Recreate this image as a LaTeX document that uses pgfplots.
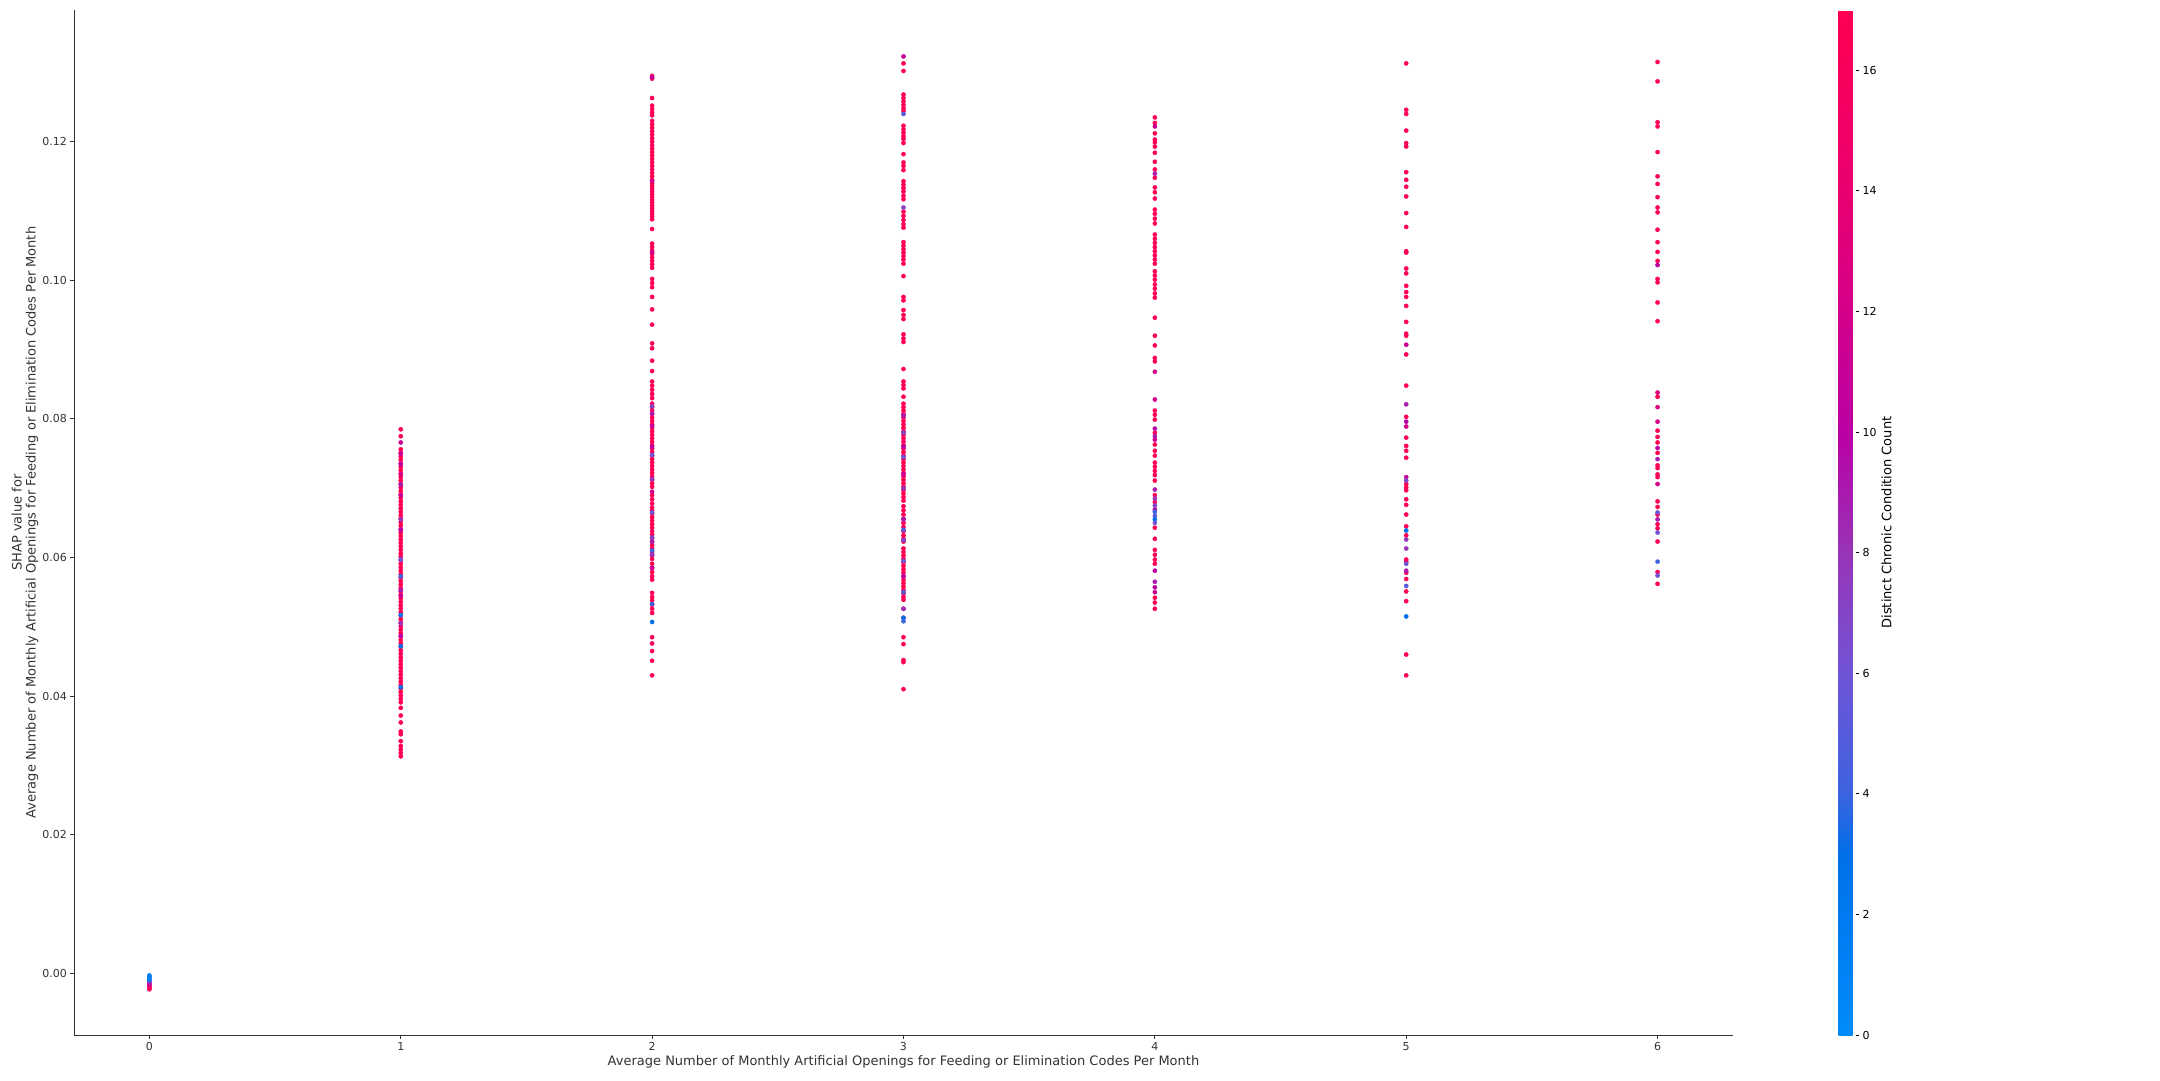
\documentclass[border=0pt]{standalone}
\usepackage{fontspec}
\setmainfont{DejaVu Sans}
\usepackage{pgfplots}
\pgfplotsset{compat=1.18}
\definecolor{axisgray}{HTML}{333333}
\pgfplotsset{/pgf/number format/assume math mode=true}

\pgfplotstableread{
x y c
1 0.0785 17
1 0.0775 17
1 0.0756 17
1 0.0751 17
1 0.0746 17
1 0.0741 17
1 0.0736 16
1 0.0731 17
1 0.0726 17
1 0.0721 17
1 0.0716 17
1 0.0711 17
1 0.0706 16
1 0.0701 17
1 0.0696 17
1 0.0691 17
1 0.0686 17
1 0.0681 17
1 0.0676 17
1 0.0671 16
1 0.0666 17
1 0.0661 17
1 0.0656 17
1 0.0651 17
1 0.0646 17
1 0.0641 17
1 0.0636 16
1 0.0631 17
1 0.0626 17
1 0.0621 17
1 0.0616 17
1 0.0611 17
1 0.0606 17
1 0.0601 16
1 0.0596 17
1 0.0591 17
1 0.0586 17
1 0.0581 17
1 0.0576 17
1 0.0571 17
1 0.0566 16
1 0.0561 17
1 0.0556 17
1 0.0551 17
1 0.0546 17
1 0.0541 17
1 0.0536 17
1 0.0531 16
1 0.0526 17
1 0.0521 17
1 0.0516 17
1 0.0511 17
1 0.0506 17
1 0.0501 17
1 0.0496 16
1 0.0491 17
1 0.0486 17
1 0.0481 17
1 0.0476 17
1 0.0471 17
1 0.0466 17
1 0.0461 16
1 0.0456 17
1 0.0451 17
1 0.0446 17
1 0.0441 17
1 0.0436 17
1 0.0431 17
1 0.0426 16
1 0.0421 17
1 0.0416 17
1 0.0411 17
1 0.0406 17
1 0.0401 17
1 0.0396 17
1 0.0391 17
1 0.0383 17
1 0.0372 17
1 0.0362 17
1 0.0349 17
1 0.0345 17
1 0.0335 17
1 0.0328 17
1 0.0323 17
1 0.0318 17
1 0.0313 17
2 0.1295 17
2 0.1291 17
2 0.1263 17
2 0.1252 17
2 0.1247 17
2 0.1242 17
2 0.1238 17
2 0.1230 16
2 0.1225 17
2 0.1220 17
2 0.1215 17
2 0.1210 17
2 0.1205 17
2 0.1200 17
2 0.1195 16
2 0.1190 17
2 0.1185 17
2 0.1180 17
2 0.1175 17
2 0.1170 17
2 0.1165 17
2 0.1160 16
2 0.1155 17
2 0.1150 17
2 0.1145 17
2 0.1140 17
2 0.1136 17
2 0.1132 17
2 0.1128 16
2 0.1124 17
2 0.1120 17
2 0.1116 17
2 0.1112 17
2 0.1108 17
2 0.1104 17
2 0.1100 16
2 0.1096 17
2 0.1092 17
2 0.1088 17
2 0.1074 17
2 0.1053 17
2 0.1048 17
2 0.1043 16
2 0.1038 17
2 0.1033 17
2 0.1028 17
2 0.1023 17
2 0.1018 17
2 0.1002 17
2 0.0996 16
2 0.0990 17
2 0.0976 17
2 0.0958 17
2 0.0936 17
2 0.0909 17
2 0.0902 17
2 0.0884 16
2 0.0869 17
2 0.0854 17
2 0.0848 17
2 0.0842 17
2 0.0836 17
2 0.0830 17
2 0.0822 16
2 0.0817 17
2 0.0812 17
2 0.0807 17
2 0.0802 17
2 0.0797 17
2 0.0792 17
2 0.0787 16
2 0.0782 17
2 0.0777 17
2 0.0772 17
2 0.0767 17
2 0.0762 17
2 0.0757 17
2 0.0752 16
2 0.0747 17
2 0.0742 17
2 0.0737 17
2 0.0732 17
2 0.0727 17
2 0.0722 17
2 0.0717 16
2 0.0712 17
2 0.0707 17
2 0.0702 17
2 0.0690 17
2 0.0684 17
2 0.0678 17
2 0.0672 16
2 0.0668 17
2 0.0663 17
2 0.0658 17
2 0.0653 17
2 0.0648 17
2 0.0643 17
2 0.0638 16
2 0.0633 17
2 0.0628 17
2 0.0623 17
2 0.0618 17
2 0.0613 17
2 0.0608 17
2 0.0603 16
2 0.0598 17
2 0.0591 17
2 0.0585 17
2 0.0579 17
2 0.0573 17
2 0.0568 17
2 0.0549 16
2 0.0543 17
2 0.0538 17
2 0.0532 17
2 0.0526 17
2 0.0520 17
2 0.0485 17
2 0.0476 16
2 0.0465 17
2 0.0451 17
2 0.0430 17
3 0.1313 17
3 0.1302 17
3 0.1268 17
3 0.1263 17
3 0.1258 17
3 0.1253 16
3 0.1248 17
3 0.1244 17
3 0.1223 17
3 0.1218 17
3 0.1213 17
3 0.1208 17
3 0.1204 16
3 0.1198 17
3 0.1182 17
3 0.1170 17
3 0.1165 17
3 0.1159 17
3 0.1143 17
3 0.1138 16
3 0.1133 17
3 0.1128 17
3 0.1122 17
3 0.1117 17
3 0.1099 17
3 0.1093 17
3 0.1087 16
3 0.1081 17
3 0.1076 17
3 0.1055 17
3 0.1050 17
3 0.1045 17
3 0.1040 17
3 0.1035 16
3 0.1030 17
3 0.1024 17
3 0.1006 17
3 0.0976 17
3 0.0971 17
3 0.0957 17
3 0.0950 16
3 0.0944 17
3 0.0922 17
3 0.0916 17
3 0.0911 17
3 0.0872 17
3 0.0854 17
3 0.0849 16
3 0.0844 17
3 0.0832 17
3 0.0822 17
3 0.0817 17
3 0.0812 17
3 0.0807 17
3 0.0802 16
3 0.0797 17
3 0.0792 17
3 0.0787 17
3 0.0782 17
3 0.0777 17
3 0.0772 17
3 0.0767 16
3 0.0762 17
3 0.0757 17
3 0.0752 17
3 0.0747 17
3 0.0742 17
3 0.0737 17
3 0.0732 16
3 0.0727 17
3 0.0722 17
3 0.0717 17
3 0.0712 17
3 0.0707 17
3 0.0702 17
3 0.0697 16
3 0.0692 17
3 0.0687 17
3 0.0682 17
3 0.0674 17
3 0.0668 17
3 0.0662 17
3 0.0656 16
3 0.0650 17
3 0.0644 17
3 0.0638 17
3 0.0632 17
3 0.0627 17
3 0.0623 17
3 0.0613 16
3 0.0608 17
3 0.0603 17
3 0.0598 17
3 0.0593 17
3 0.0588 17
3 0.0583 17
3 0.0578 16
3 0.0573 17
3 0.0568 17
3 0.0563 17
3 0.0558 17
3 0.0553 17
3 0.0548 17
3 0.0543 16
3 0.0539 17
3 0.0526 17
3 0.0513 17
3 0.0485 17
3 0.0475 17
3 0.0452 17
3 0.0449 16
3 0.0410 17
4 0.1235 17
4 0.1227 17
4 0.1212 17
4 0.1203 17
4 0.1199 17
4 0.1193 16
4 0.1184 17
4 0.1171 17
4 0.1160 17
4 0.1148 17
4 0.1134 17
4 0.1127 17
4 0.1118 16
4 0.1102 17
4 0.1096 17
4 0.1089 17
4 0.1082 17
4 0.1066 17
4 0.1060 17
4 0.1054 16
4 0.1048 17
4 0.1042 17
4 0.1036 17
4 0.1030 17
4 0.1024 17
4 0.1013 17
4 0.1007 16
4 0.1001 17
4 0.0994 17
4 0.0988 17
4 0.0981 17
4 0.0975 17
4 0.0946 17
4 0.0920 16
4 0.0906 17
4 0.0888 17
4 0.0883 17
4 0.0812 17
4 0.0806 17
4 0.0799 17
4 0.0780 16
4 0.0763 17
4 0.0754 17
4 0.0747 17
4 0.0737 17
4 0.0731 17
4 0.0725 17
4 0.0719 16
4 0.0711 17
4 0.0690 17
4 0.0680 17
4 0.0643 17
4 0.0627 17
4 0.0611 17
4 0.0604 16
4 0.0597 17
4 0.0591 17
4 0.0542 17
4 0.0535 17
4 0.0526 17
5 0.1313 17
5 0.1246 17
5 0.1240 17
5 0.1216 17
5 0.1198 17
5 0.1193 16
5 0.1156 17
5 0.1145 17
5 0.1135 17
5 0.1121 17
5 0.1097 17
5 0.1077 17
5 0.1042 16
5 0.1040 17
5 0.1017 17
5 0.1010 17
5 0.0992 17
5 0.0983 17
5 0.0976 17
5 0.0963 16
5 0.0940 17
5 0.0923 17
5 0.0920 17
5 0.0893 17
5 0.0848 17
5 0.0803 17
5 0.0773 16
5 0.0761 17
5 0.0754 17
5 0.0744 17
5 0.0706 17
5 0.0701 17
5 0.0697 17
5 0.0684 16
5 0.0676 17
5 0.0662 17
5 0.0645 17
5 0.0632 17
5 0.0597 17
5 0.0594 17
5 0.0578 16
5 0.0569 17
5 0.0551 17
5 0.0537 17
5 0.0460 17
5 0.0430 17
6 0.1315 17
6 0.1287 17
6 0.1228 17
6 0.1222 17
6 0.1185 17
6 0.1150 16
6 0.1139 17
6 0.1120 17
6 0.1105 17
6 0.1098 17
6 0.1073 17
6 0.1055 17
6 0.1041 16
6 0.1028 17
6 0.1002 17
6 0.0997 17
6 0.0968 17
6 0.0941 17
6 0.0832 17
6 0.0783 16
6 0.0774 17
6 0.0766 17
6 0.0751 17
6 0.0733 17
6 0.0729 17
6 0.0720 17
6 0.0716 16
6 0.0681 17
6 0.0673 17
6 0.0662 17
6 0.0648 17
6 0.0642 17
6 0.0623 17
6 0.0579 16
6 0.0562 17
}\reddata

\pgfplotstableread{
x y c
0 -0.0023 17
0 -0.0021 17
0 -0.0019 15
0 -0.0017 13
0 -0.0015 11
0 -0.0013 9
0 -0.0011 6
0 -0.0009 3
0 -0.0007 1
0 -0.0005 1
0 -0.0003 2
1 0.0766 11
1 0.0750 11
1 0.0735 10
1 0.0720 12
1 0.0705 9
1 0.0690 11
1 0.0655 8
1 0.0640 10
1 0.0597 6
1 0.0573 4
1 0.0553 9
1 0.0545 11
1 0.0517 2
1 0.0505 8
1 0.0487 10
1 0.0472 3
1 0.0413 3
2 0.1293 11
2 0.1143 12
2 0.1040 12
2 0.0818 7
2 0.0808 9
2 0.0790 11
2 0.0760 10
2 0.0748 6
2 0.0713 8
2 0.0695 12
2 0.0665 6
2 0.0629 7
2 0.0623 9
2 0.0610 4
2 0.0604 8
2 0.0585 11
2 0.0533 4
2 0.0507 3
3 0.1323 11
3 0.1240 5
3 0.1105 7
3 0.0805 9
3 0.0780 7
3 0.0760 10
3 0.0745 6
3 0.0720 11
3 0.0700 8
3 0.0655 9
3 0.0640 5
3 0.0625 7
3 0.0595 6
3 0.0573 10
3 0.0550 5
3 0.0526 8
3 0.0513 3
3 0.0508 4
4 0.1222 11
4 0.1154 9
4 0.0868 12
4 0.0828 12
4 0.0786 10
4 0.0775 9
4 0.0770 11
4 0.0698 9
4 0.0685 8
4 0.0675 7
4 0.0669 10
4 0.0666 4
4 0.0660 5
4 0.0655 3
4 0.0650 6
4 0.0581 10
4 0.0565 9
4 0.0557 10
4 0.0550 11
5 0.0907 11
5 0.0821 9
5 0.0796 10
5 0.0789 12
5 0.0716 11
5 0.0711 7
5 0.0639 3
5 0.0626 8
5 0.0613 8
5 0.0591 6
5 0.0581 9
5 0.0559 5
5 0.0515 3
6 0.1022 10
6 0.0838 13
6 0.0817 13
6 0.0796 12
6 0.0758 10
6 0.0742 9
6 0.0706 12
6 0.0665 6
6 0.0655 9
6 0.0636 6
6 0.0594 4
6 0.0574 6
}\colordata

\begin{document}
\begin{tikzpicture}
\useasboundingbox (-74pt,-45pt) rectangle (2086pt,1035pt);
\begin{axis}[
  scale only axis,
  width=1659pt, height=1025pt,
  at={(0,0)}, anchor=south west,
  xmin=-0.3, xmax=6.3,
  ymin=-0.0089, ymax=0.1390,
  axis x line*=bottom, axis y line*=left,
  axis line style={-, draw=axisgray, line width=0.8pt},
  xtick={0,1,2,3,4,5,6},
  ytick={0,0.02,0.04,0.06,0.08,0.10,0.12},
  scaled y ticks=false,
  yticklabel style={/pgf/number format/fixed, /pgf/number format/fixed zerofill, /pgf/number format/precision=2},
  tick align=outside,
  major tick length=3.5pt,
  tick style={draw=axisgray, line width=0.8pt},
  ticklabel style={font=\fontsize{11}{13}\selectfont, text=axisgray},
  xlabel={Average Number of Monthly Artificial Openings for Feeding or Elimination Codes Per Month},
  ylabel={SHAP value for\\Average Number of Monthly Artificial Openings for Feeding or Elimination Codes Per Month},
  every axis x label/.style={at={(axis description cs:0.5,-0.0263)}, anchor=center, font=\fontsize{13}{15.5}\selectfont, text=axisgray},
  every axis y label/.style={at={(axis description cs:-0.02954,0.5)}, rotate=90, anchor=center, align=center, font=\fontsize{13}{14}\selectfont, text=axisgray},
  colormap={shap}{
    rgb255(0cm)=(0,139,251)
    rgb255(2cm)=(0,122,240)
    rgb255(3cm)=(0,112,232)
    rgb255(4cm)=(60,99,224)
    rgb255(6cm)=(112,84,214)
    rgb255(8cm)=(152,52,184)
    rgb255(10cm)=(186,0,164)
    rgb255(12cm)=(212,0,138)
    rgb255(14cm)=(234,0,112)
    rgb255(17cm)=(255,0,82)
  },
  point meta min=0, point meta max=17,
  colorbar,
  colorbar style={
    at={(parent axis.north east)}, anchor=north west, xshift=97pt,
    scale only axis,
    width=17pt, height=1025pt,
    axis line style={draw=none},
    xtick=\empty,
    ytick={0,2,4,6,8,10,12,14,16},
    ytick pos=right,
    yticklabel pos=right,
    tick align=outside,
    major tick length=3.5pt,
    ytick style={draw=black, line width=0.8pt},
    yticklabel style={font=\fontsize{11}{13}\selectfont, text=black},
    ylabel={Distinct Chronic Condition Count},
    every axis y label/.style={at={(axis description cs:2.82,0.5)}, rotate=90, anchor=center, font=\fontsize{13}{15.5}\selectfont, text=black},
  },
]
\addplot[scatter, only marks, mark=*, mark size=2.1pt, point meta=explicit,
  scatter/use mapped color={draw=mapped color, fill=mapped color}]
  table[x=x, y=y, meta=c] {\reddata};
\addplot[scatter, only marks, mark=*, mark size=2.1pt, point meta=explicit,
  scatter/use mapped color={draw=mapped color, fill=mapped color}]
  table[x=x, y=y, meta=c] {\colordata};
\end{axis}
\end{tikzpicture}
\end{document}
